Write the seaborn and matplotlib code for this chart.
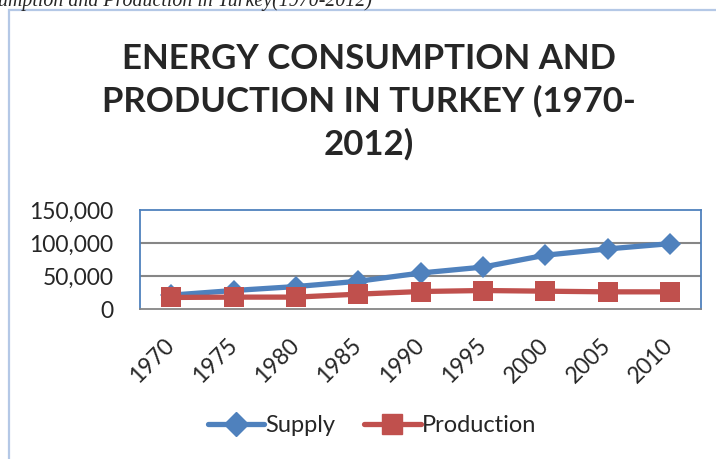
import numpy as np
import matplotlib.pyplot as plt
import matplotlib.patches as mpatches
import matplotlib.ticker as mticker
import seaborn as sns
import pandas as pd

# --- Data (thousand toe) ---
YEARS = ['1970', '1975', '1980', '1985', '1990', '1995', '2000', '2005', '2010']
SUPPLY = [21000, 28000, 34000, 42000, 54500, 63500, 81500, 91000, 99000]
PRODUCTION = [17500, 18000, 18000, 22500, 26500, 28000, 27000, 26000, 26000]
Y_TICKS = [0, 50000, 100000, 150000]

TITLE = 'ENERGY CONSUMPTION AND\nPRODUCTION IN TURKEY (1970-\n2012)'
CAPTION = 'umption and Production in Turkey(1970-2012)'

BLUE = '#4F81BD'
RED = '#C0504D'
GRID = '#868686'

W, H = 716, 459

df = pd.DataFrame({
    'Year': YEARS * 2,
    'Value': SUPPLY + PRODUCTION,
    'Series': ['Supply'] * len(YEARS) + ['Production'] * len(YEARS),
})

sns.set_style('white')
plt.rcParams['font.family'] = ['Lato', 'DejaVu Sans']

fig = plt.figure(figsize=(W / 100, H / 100), dpi=100)
ax = fig.add_axes([140 / W, 1 - 309 / H, (701 - 140) / W, (309 - 210) / H])

sns.lineplot(data=df, x='Year', y='Value', hue='Series', style='Series',
             markers={'Supply': 'D', 'Production': 's'}, dashes=False,
             palette={'Supply': BLUE, 'Production': RED}, sort=False,
             linewidth=3.8, markersize=13, markeredgewidth=0, ax=ax,
             legend=False, zorder=3)
# squares a bit bigger than the diamonds
for ln, ms in zip(ax.get_lines(), [11.5, 14.5]):
    ln.set_markersize(ms)

ax.set_xlim(-0.5, len(YEARS) - 0.5)
ax.set_ylim(0, 150000)
ax.set_yticks(Y_TICKS)
ax.yaxis.set_major_formatter(mticker.StrMethodFormatter('{x:,.0f}'))
ax.set_xlabel('')
ax.set_ylabel('')

for y in Y_TICKS[1:-1]:
    ax.axhline(y, color=GRID, linewidth=1.5, zorder=1)

for side in ['top', 'left', 'right']:
    ax.spines[side].set_color(BLUE)
    ax.spines[side].set_linewidth(1.3)
ax.spines['bottom'].set_color(GRID)
ax.spines['bottom'].set_linewidth(1.3)

ax.tick_params(axis='both', length=0, labelsize=16.5)
ax.tick_params(axis='y', pad=19)
ax.tick_params(axis='x', pad=24)
for lbl in ax.get_xticklabels():
    lbl.set_rotation(45)
    lbl.set_ha('right')
    lbl.set_va('center')
    lbl.set_rotation_mode('anchor')

# legend below the plot
handles = [plt.Line2D([], [], color=BLUE, marker='D', markersize=12, linewidth=3.8),
           plt.Line2D([], [], color=RED, marker='s', markersize=14.5, linewidth=3.8)]
fig.legend(handles, ['Supply', 'Production'], loc='center',
           bbox_to_anchor=(372 / W, 1 - 426 / H), ncol=2, frameon=False,
           fontsize=17, handlelength=2.4, handletextpad=0.05, columnspacing=1.2)

# title
fig.text(369 / W, 1 - 43 / H, TITLE, ha='center', va='top', fontsize=25,
         fontweight='bold', linespacing=1.38)

# cut-off caption from the page above the chart
fig.text(-2 / W, 1 - 6 / H, CAPTION, ha='left', va='baseline', fontsize=14.3,
         style='italic', family='Liberation Serif')

# outer chart frame
fig.patches.append(mpatches.Rectangle((9 / W, -0.1), 1.0, 1.1 - 10 / H,
                                      transform=fig.transFigure, fill=False,
                                      edgecolor='#B4C8E6', linewidth=1.6))

fig.savefig('out.png', dpi=100)
